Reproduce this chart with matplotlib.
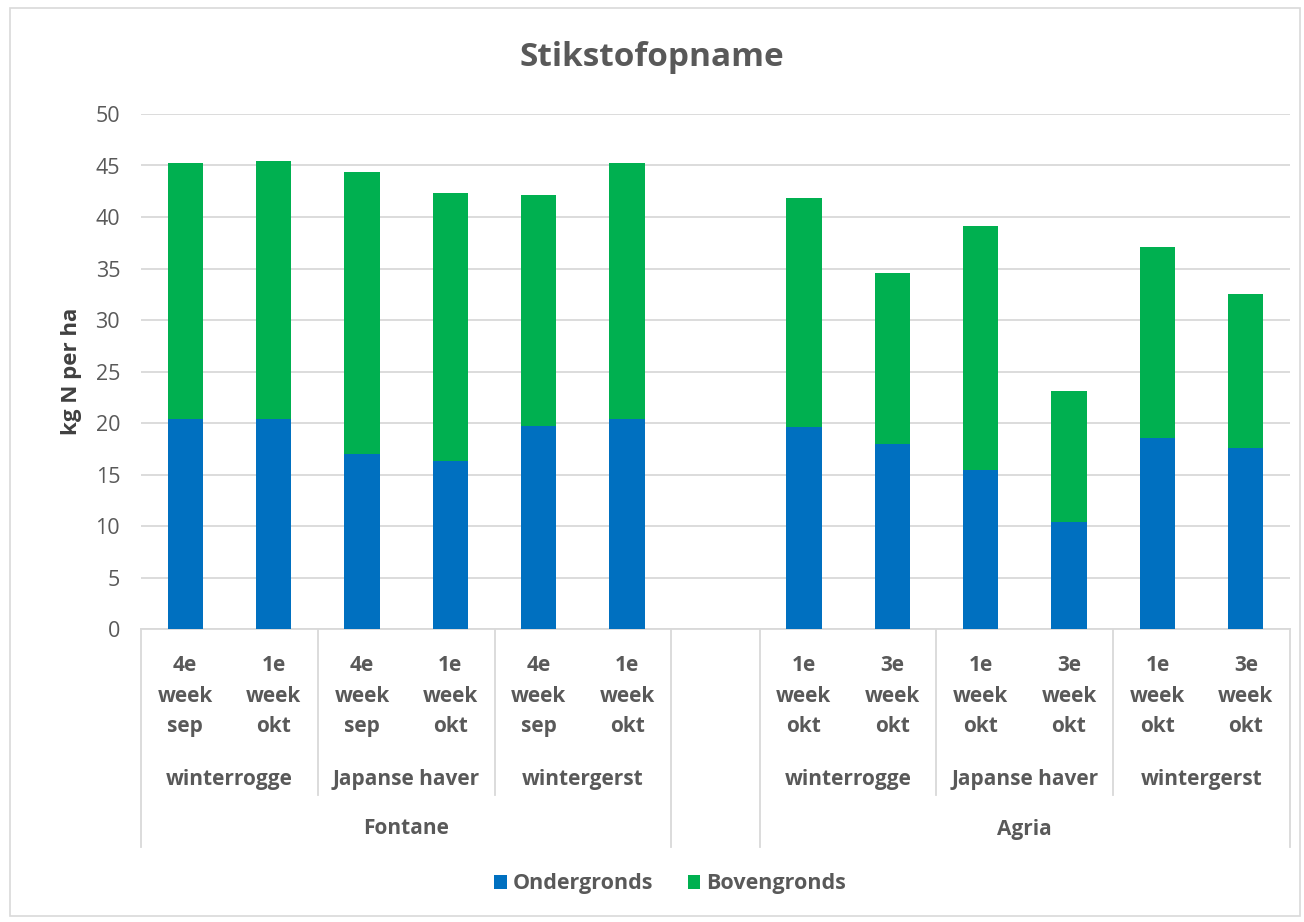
import numpy as np
import matplotlib.pyplot as plt
from matplotlib.patches import Rectangle

# data
varieties = ["Fontane", "Agria"]
crops = ["winterrogge", "Japanse haver", "wintergerst"]
dates_fontane = ["4e\nweek\nsep", "1e\nweek\nokt"]
dates_agria = ["1e\nweek\nokt", "3e\nweek\nokt"]

ondergronds_fontane = [20.4, 20.4, 17.0, 16.3, 19.7, 20.4]
bovengronds_fontane = [24.8, 25.0, 27.4, 26.0, 22.4, 24.8]
ondergronds_agria = [19.6, 18.0, 15.4, 10.4, 18.5, 17.6]
bovengronds_agria = [22.2, 16.6, 23.7, 12.7, 18.6, 14.9]

BLUE = "#0070C0"
GREEN = "#00B050"
TXT = "#595959"
GRID = "#D9D9D9"

plt.rcParams['font.family'] = ['Open Sans', 'DejaVu Sans']

W, H = 1304, 922
fig = plt.figure(figsize=(W / 100, H / 100), dpi=100)

# frame around the chart
fig.patches.append(Rectangle((10 / W, 1 - 916 / H), 1290 / W, 908 / H,
                             transform=fig.transFigure, fill=False,
                             edgecolor=GRID, lw=1.2))

ax_l, ax_r, ax_t, ax_b = 141, 1290, 114, 629
ax = fig.add_axes([ax_l / W, 1 - ax_b / H, (ax_r - ax_l) / W, (ax_b - ax_t) / H])
ax_h = ax_b - ax_t

def ay(py):
    """pixel row -> axes fraction"""
    return (ax_b - py) / ax_h

# positions: 6 Fontane slots, one empty slot, 6 Agria slots
x_f = np.arange(6)
x_a = np.arange(7, 13)
width = 0.4

ax.bar(x_f, ondergronds_fontane, width, color=BLUE, zorder=3, label="Ondergronds")
ax.bar(x_f, bovengronds_fontane, width, bottom=ondergronds_fontane, color=GREEN,
       zorder=3, label="Bovengronds")
ax.bar(x_a, ondergronds_agria, width, color=BLUE, zorder=3)
ax.bar(x_a, bovengronds_agria, width, bottom=ondergronds_agria, color=GREEN, zorder=3)

ax.set_xlim(-0.5, 12.5)
ax.set_ylim(0, 50)
ax.set_yticks(np.arange(0, 51, 5))
ax.yaxis.grid(True, color=GRID, lw=1.3, zorder=0)
ax.tick_params(axis='y', length=0, labelsize=15.5, labelcolor=TXT, pad=15)
ax.set_xticks([])
for s in ["top", "right", "left"]:
    ax.spines[s].set_visible(False)
ax.spines["bottom"].set_color(GRID)
ax.spines["bottom"].set_linewidth(1.3)
ax.set_ylabel("kg N per ha", fontsize=16, fontweight='bold', color="#404040",
              labelpad=10)

tr = ax.get_xaxis_transform()
lab_kw = dict(transform=tr, ha='center', va='center', color=TXT,
              fontsize=15, fontweight='bold', clip_on=False)

# date labels
for xs, dates in [(x_f, dates_fontane), (x_a, dates_agria)]:
    for i, x in enumerate(xs):
        ax.text(x, ay(696), dates[i % 2], linespacing=1.6, **lab_kw)
    for j, crop in enumerate(crops):
        ax.text(xs[2 * j] + 0.5, ay(779), crop, **lab_kw)

ax.text(2.5, ay(829), varieties[0], **lab_kw)
ax.text(9.5, ay(829), varieties[1], **lab_kw)

# separator lines of the category axis
line_kw = dict(transform=tr, color=GRID, lw=1.3, clip_on=False)
for x in [1.5, 3.5, 8.5, 10.5]:
    ax.plot([x, x], [0, ay(795)], **line_kw)
for x in [-0.5, 5.5, 6.5, 12.5]:
    ax.plot([x, x], [0, ay(847)], **line_kw)

fig.text(0.5, 1 - 57 / H, "Stikstofopname", ha='center', va='center',
         fontsize=24, fontweight='bold', color=TXT)

fig.legend(loc='center', bbox_to_anchor=(670 / W, 1 - 884 / H), ncol=2,
           frameon=False, handlelength=0.6, handleheight=0.6, handletextpad=0.25,
           columnspacing=1.6, prop=dict(size=15.5, weight='bold'),
           labelcolor=TXT)

fig.savefig("out.png", dpi=100)
